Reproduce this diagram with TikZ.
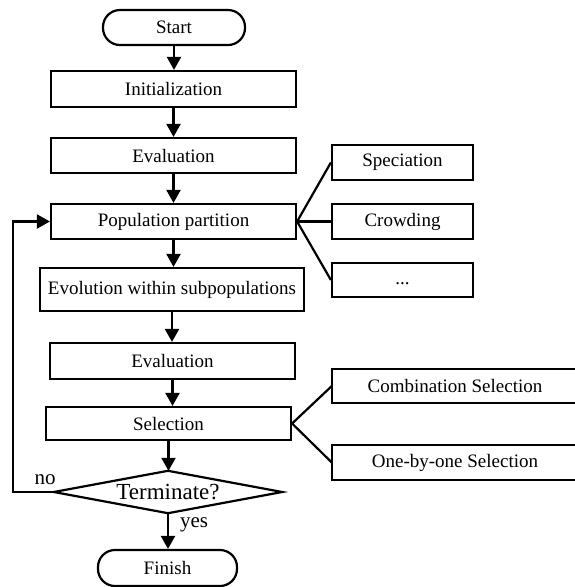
\documentclass[tikz,border=0pt]{standalone}
\usepackage{fontspec}
\setmainfont{Liberation Serif}
\usetikzlibrary{arrows.meta}
\begin{document}
\begin{tikzpicture}[x=1pt,y=-1pt,
  every node/.style={font=\fontsize{19}{22}\selectfont},
  box/.style={draw,line width=2.2pt,rectangle,inner sep=0pt,minimum width=245pt,minimum height=35pt},
  term/.style={draw,line width=2.2pt,rectangle,rounded corners=17pt,inner sep=0pt,minimum height=35pt},
  sidebox/.style={draw,line width=2.2pt,rectangle,inner sep=0pt,minimum width=141pt,minimum height=35pt},
  openbox/.style={rectangle,inner sep=0pt,minimum width=246pt,minimum height=35pt},
  flow/.style={line width=2.2pt,-{Triangle[length=13pt,width=14pt]}},
  link/.style={line width=2.2pt},
  lbl/.style={font=\fontsize{21}{24}\selectfont,inner sep=0pt}]
\useasboundingbox (0,0) rectangle (574,587);
\node[term,minimum width=142pt] (start) at (174,27.5) {Start};
\node[box,minimum height=36pt] (init) at (173.5,89) {Initialization};
\node[box] (eval1) at (173.5,155.5) {Evaluation};
\node[box] (part) at (173.5,221.5) {Population partition};
\node[box,minimum width=264pt,minimum height=43pt] (evol) at (172,289.5) {Evolution within subpopulations};
\node[box,minimum height=36pt] (eval2) at (172.5,361) {Evaluation};
\node[box,minimum height=33pt] (sel) at (168.5,423.5) {Selection};
\node[rectangle,inner sep=0pt,minimum width=228pt,minimum height=42pt,font=\fontsize{23}{26}\selectfont] (dec) at (168,492) {Terminate?};
\draw[link] (dec.west) -- (dec.north) -- (dec.east) -- (dec.south) -- cycle;
\node[term,minimum width=139pt,minimum height=36pt] (fin) at (167.5,568) {Finish};

\node[sidebox] (spec) at (402.5,162.5) {Speciation};
\node[sidebox] (crowd) at (402.5,221.5) {Crowding};
\node[sidebox,minimum height=34pt] (dots) at (402.5,280) {\vphantom{Ay}...};

\node[openbox,minimum height=34pt] (comb) at (455,386) {Combination Selection};
\draw[link] (comb.north east) -- (comb.north west) -- (comb.south west) -- (comb.south east);
\node[openbox] (one) at (455,462.5) {One-by-one Selection};
\draw[link] (one.north east) -- (one.north west) -- (one.south west) -- (one.south east);

\draw[flow] (start.south) -- (start.south |- init.north);
\draw[flow] (init.south) -- (init.south |- eval1.north);
\draw[flow] (eval1.south) -- (eval1.south |- part.north);
\draw[flow] (part.south) -- (part.south |- evol.north);
\draw[flow] (evol.south) -- (evol.south |- eval2.north);
\draw[flow] (eval2.south) -- (eval2.south |- sel.north);
\draw[flow] (sel.south) -- (sel.south |- dec.north);
\draw[flow] (dec.south) -- (dec.south |- fin.north);

\coordinate (fb) at (13,492);
\draw[flow] (dec.west) -- (fb) |- (part.west);

\draw[link] (part.east) -- (spec.west);
\draw[link] (part.east) -- (crowd.west);
\draw[link] (part.east) -- (dots.west);
\draw[link] (sel.east) -- (comb.west);
\draw[link] (sel.east) -- (one.west);

\node[lbl] (no) at (45,480) {no};
\node[lbl] (yes) at (194,525) {yes};
\end{tikzpicture}
\end{document}
